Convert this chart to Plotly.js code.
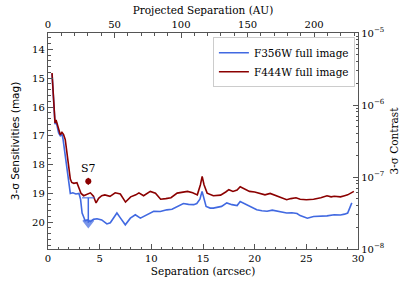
<!DOCTYPE html>
<html>
<head>
<meta charset="utf-8">
<script src="https://cdn.plot.ly/plotly-3.0.1.min.js"></script>
<style>html,body{margin:0;padding:0;background:#fff;}#chart{width:407px;height:285px;}</style>
</head>
<body>
<div id="chart"></div>
<script>
// ---- data ----
const sepF444 = [0.39,0.5,0.6,0.68,0.78,0.9,1.03,1.19,1.35,1.5,1.67,1.84,2.0,2.16,2.3,2.5,2.8,3.0,3.2,3.45,3.75,4.1,4.4,4.65,4.9,5.2,5.5,6.0,6.5,7.0,7.5,8.0,8.5,8.8,9.25,9.9,10.4,10.9,11.4,11.9,12.5,13.0,13.5,14.0,14.45,14.75,14.92,15.1,15.4,16.0,16.7,17.2,17.5,17.9,18.3,18.6,19.0,19.5,20.0,20.5,21.0,21.5,22.2,22.6,23.1,23.5,24.0,24.4,25.0,25.7,26.4,27.0,27.4,27.7,28.3,28.7,29.0,29.6];
const magF444 = [14.82,15.5,16.2,16.55,16.45,16.6,16.8,16.96,16.88,16.95,17.13,17.6,18.15,18.5,18.62,18.65,18.63,18.8,19.0,19.08,19.03,18.98,19.1,19.33,19.17,19.08,19.05,19.1,18.98,19.02,19.3,19.12,19.05,18.98,19.08,18.93,18.99,19.2,19.18,19.15,18.99,18.97,18.93,18.98,19.05,18.7,18.41,18.7,18.99,19.08,19.06,18.95,18.87,18.93,18.88,18.77,18.85,18.93,18.95,19.0,19.05,19.0,19.1,19.15,19.22,19.18,19.15,19.2,19.22,19.2,19.15,19.08,19.12,19.1,19.12,19.08,19.05,18.93];

const sepF356 = [0.39,0.5,0.6,0.68,0.78,0.9,1.03,1.19,1.35,1.45,1.55,1.7,1.84,2.0,2.16,2.4,2.7,3.0,3.15,3.3,3.6,3.8,4.1,4.4,4.74,5.2,5.7,6.03,6.4,6.67,7.0,7.48,7.97,8.45,8.94,9.58,10.23,10.87,11.5,12.0,12.49,13.1,13.6,14.1,14.4,14.7,14.91,15.1,15.3,15.7,16.0,16.8,17.3,17.8,18.3,18.6,19.25,19.8,20.2,20.7,21.2,21.7,22.3,23.1,23.6,24.1,24.4,25.1,25.7,26.4,27.0,27.7,28.3,28.7,29.0,29.4];
const magF356 = [14.85,15.55,16.3,16.6,16.5,16.7,16.9,17.0,16.95,17.1,17.4,17.8,18.2,18.7,19.0,18.98,19.02,19.0,19.2,19.68,19.95,19.92,19.98,19.9,19.88,19.92,20.06,20.02,19.8,19.68,19.85,20.09,19.86,19.74,19.86,19.74,19.62,19.63,19.57,19.55,19.45,19.35,19.38,19.39,19.35,19.2,18.93,19.2,19.45,19.51,19.51,19.45,19.33,19.39,19.42,19.28,19.4,19.5,19.57,19.6,19.62,19.58,19.63,19.68,19.67,19.7,19.77,19.86,19.8,19.8,19.78,19.74,19.75,19.72,19.68,19.33];

// S7 companion
const s7Sep = [3.9];
const s7MagF444 = [18.58];
const s7ErrF444 = [0.12];
const s7LimitSep = [3.9, 3.9];
const s7LimitMagF356 = [19.15, 20.02];

const seriesNames = ["F356W full image", "F444W full image"];
const xTitle = "Separation (arcsec)";
const x2Title = "Projected Separation (AU)";
const yTitle = "3-σ Sensitivities (mag)";
const y2Title = "3-σ Contrast";
const magRange = [20.93, 13.43];
const sepRange = [0, 30];
const auRange = [0, 233];
const contrastRange = [1e-8, 1e-5];
const contrastTickVals = [1e-8, 1e-7, 1e-6, 1e-5];
const contrastTickText = ["10<sup>−8</sup>", "10<sup>−7</sup>", "10<sup>−6</sup>", "10<sup>−5</sup>"];
const contrastMinorVals = [];
for (let e = -8; e < -5; e++) for (let m = 2; m <= 9; m++) contrastMinorVals.push(m * Math.pow(10, e));

const BLUE = "#4169e1", RED = "#8b0000";
const SERIF = "'DejaVu Serif'";
const SANS = "'DejaVu Sans'";
const AX = "#555";

const traces = [
  {x: sepF356, y: magF356, mode: "lines", name: seriesNames[0], line: {color: BLUE, width: 1.6}, xaxis: "x", yaxis: "y"},
  {x: sepF444, y: magF444, mode: "lines", name: seriesNames[1], line: {color: RED, width: 1.6}, xaxis: "x", yaxis: "y"},
  {x: s7Sep, y: s7MagF444, mode: "markers", showlegend: false, marker: {color: RED, size: 6},
   error_y: {type: "data", array: s7ErrF444, color: RED, thickness: 1.5, width: 0}, xaxis: "x", yaxis: "y"},
  {x: s7LimitSep, y: s7LimitMagF356, mode: "lines+markers", showlegend: false,
   line: {color: BLUE, width: 1.5},
   marker: {color: BLUE, size: [9, 9], symbol: ["line-ew-open", "triangle-down"], line: {color: BLUE, width: 1.6}},
   xaxis: "x", yaxis: "y"},
  {x: [0, 233], y: contrastRange, mode: "none", xaxis: "x2", yaxis: "y2", showlegend: false, hoverinfo: "skip"}
];

const tickCommon = {ticks: "inside", ticklen: 5, tickwidth: 1, tickcolor: AX, showline: true, linecolor: AX, linewidth: 1.2,
  showgrid: false, zeroline: false, tickfont: {family: SERIF, size: 10, color: "#000"}, automargin: false};

const layout = {
  width: 407, height: 285,
  margin: {l: 48, r: 49, t: 33, b: 36},
  paper_bgcolor: "#fff", plot_bgcolor: "#fff",
  font: {family: SERIF, size: 10, color: "#000"},
  showlegend: true,
  legend: {x: 0.99, y: 0.98, xanchor: "right", yanchor: "top", bgcolor: "rgba(255,255,255,0.8)",
    bordercolor: "#ccc", borderwidth: 1, font: {family: SERIF, size: 10.5, color: "#000"}, tracegroupgap: 0},
  xaxis: Object.assign({}, tickCommon, {range: sepRange, dtick: 5, side: "bottom",
    minor: {ticks: "inside", ticklen: 2.5, dtick: 1, tickcolor: AX},
    title: {text: xTitle, font: {family: SERIF, size: 10.5}, standoff: 4}}),
  xaxis2: Object.assign({}, tickCommon, {range: auRange, dtick: 50, side: "top", overlaying: "x", anchor: "y",
    minor: {ticks: "inside", ticklen: 2.5, dtick: 10, tickcolor: AX},
    title: {text: x2Title, font: {family: SERIF, size: 10.5}, standoff: 2}}),
  yaxis: Object.assign({}, tickCommon, {range: magRange, dtick: 1, side: "left",
    minor: {ticks: "inside", ticklen: 2.5, dtick: 0.2, tickcolor: AX},
    title: {text: yTitle, font: {family: SANS, size: 10.5}, standoff: 10}}),
  yaxis2: Object.assign({}, tickCommon, {type: "log", range: [-8, -5], side: "right", overlaying: "y", anchor: "x",
    tickmode: "array", tickvals: contrastTickVals, ticktext: contrastTickText,
    minor: {ticks: "inside", ticklen: 2.5, tickmode: "array", tickvals: contrastMinorVals, tickcolor: AX},
    title: {text: y2Title, font: {family: SERIF, size: 10.5}, standoff: 6}}),
  annotations: [
    {x: s7Sep[0], y: 18.12, xref: "x", yref: "y", text: "S7", showarrow: false,
     font: {family: SERIF, size: 11, color: "#000"}}
  ]
};

Plotly.newPlot("chart", traces, layout, {staticPlot: true, displayModeBar: false});
</script>
</body>
</html>
